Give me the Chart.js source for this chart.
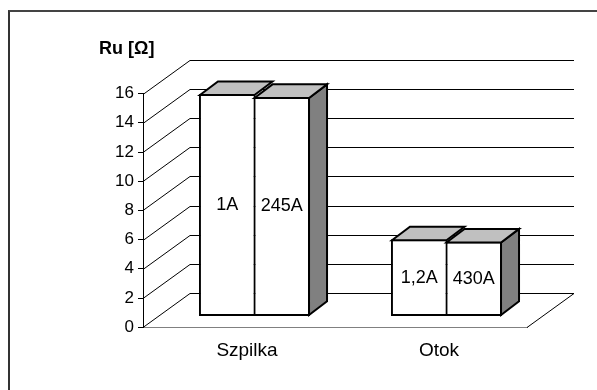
<!DOCTYPE html>
<html>
<head>
<meta charset="utf-8">
<script src="https://cdn.jsdelivr.net/npm/chart.js@4/dist/chart.umd.min.js"></script>
<style>
  html, body { margin: 0; padding: 0; background: #fff; }
  #wrap { position: relative; width: 597px; height: 390px; overflow: hidden; }
  #c { position: absolute; left: 0; top: 0; }
  #frame { position: absolute; left: 8px; top: 10px; width: 640px; height: 440px;
           border-left: 2px solid #333; border-top: 2px solid #444; pointer-events: none; }
</style>
</head>
<body>
<div id="wrap">
  <canvas id="c" width="597" height="390"></canvas>
  <div id="frame"></div>
</div>
<script>
// Resistance Ru [Ω] for two electrode types, two test currents each
const categories = ['Szpilka', 'Otok'];
const seriesA = [15.2, 5.25];
const seriesB = [15.0, 5.1];
const seriesALabels = ['1A', '1,2A'];
const seriesBLabels = ['245A', '430A'];
const yTicks = [0, 2, 4, 6, 8, 10, 12, 14, 16];

const FONT = '"Liberation Sans", Arial, Helvetica, sans-serif';

// 3-D look: wall depth and bar depth (pixels)
const WALL = { dx: 47, dy: -34 };
const DEPTH = { dx: 18, dy: -13.6 };
// bars stand a little inside the floor, so their scale is lifted by this many units
const BAR_LIFT = 0.77;

const box3d = {
  id: 'box3d',
  beforeDatasetsDraw(chart) {
    const ctx = chart.ctx;
    const y = chart.scales.y;
    const area = chart.chartArea;
    ctx.save();
    ctx.strokeStyle = '#000';
    ctx.lineWidth = 1;
    ctx.beginPath();
    yTicks.forEach(v => {
      const py = Math.round(y.getPixelForValue(v)) + 0.5;
      ctx.moveTo(area.left, py);
      ctx.lineTo(area.left + WALL.dx, py + WALL.dy);
      ctx.lineTo(area.right + WALL.dx, py + WALL.dy);
    });
    const p0 = Math.round(y.getPixelForValue(0)) + 0.5;
    ctx.moveTo(area.right, p0);
    ctx.lineTo(area.right + WALL.dx, p0 + WALL.dy);
    ctx.stroke();
    ctx.restore();
  },
  afterDatasetsDraw(chart) {
    const ctx = chart.ctx;
    const nSets = chart.data.datasets.length;
    ctx.save();
    ctx.lineWidth = 2;
    ctx.lineJoin = 'miter';
    ctx.strokeStyle = '#000';
    categories.forEach((_, i) => {
      for (let d = 0; d < nSets; d++) {
        const el = chart.getDatasetMeta(d).data[i];
        const { x, y, base, width } = el.getProps(['x', 'y', 'base', 'width'], true);
        const l = x - width / 2 + 1, r = x + width / 2 - 1;
        if (d === nSets - 1) {
          ctx.beginPath();
          ctx.moveTo(r, y + 1);
          ctx.lineTo(r + DEPTH.dx, y + 1 + DEPTH.dy);
          ctx.lineTo(r + DEPTH.dx, base - 1 + DEPTH.dy);
          ctx.lineTo(r, base - 1);
          ctx.closePath();
          ctx.fillStyle = '#808080';
          ctx.fill();
          ctx.stroke();
        }
        ctx.beginPath();
        ctx.moveTo(l, y + 1);
        ctx.lineTo(l + DEPTH.dx, y + 1 + DEPTH.dy);
        ctx.lineTo(r + DEPTH.dx, y + 1 + DEPTH.dy);
        ctx.lineTo(r, y + 1);
        ctx.closePath();
        ctx.fillStyle = '#c0c0c0';
        ctx.fill();
        ctx.stroke();
      }
    });
    // current labels inside the bars
    ctx.fillStyle = '#000';
    ctx.font = '18px ' + FONT;
    ctx.textAlign = 'center';
    ctx.textBaseline = 'middle';
    chart.data.datasets.forEach((ds, d) => {
      chart.getDatasetMeta(d).data.forEach((el, i) => {
        const { x, y, base } = el.getProps(['x', 'y', 'base'], true);
        ctx.fillText(ds.barLabels[i], x, (y + base) / 2);
      });
    });
    ctx.restore();
  }
};

const toPoints = vals => vals.map((v, i) => ({ x: i, y: v }));
const indexTicks = s => { s.ticks = categories.map((_, i) => ({ value: i })); };

// neighbouring bars overlap by one border width so they share a single edge line
const barStyle = {
  backgroundColor: '#fff',
  borderColor: '#000',
  borderWidth: 2,
  borderSkipped: false,
  categoryPercentage: 0.568,
  barPercentage: 1.037,
  clip: false,
  xAxisID: 'xb',
  yAxisID: 'yb'
};

new Chart(document.getElementById('c'), {
  type: 'bar',
  data: {
    datasets: [
      Object.assign({ label: '1A', data: toPoints(seriesA), barLabels: seriesALabels }, barStyle),
      Object.assign({ label: '245A', data: toPoints(seriesB), barLabels: seriesBLabels }, barStyle)
    ]
  },
  plugins: [box3d],
  options: {
    responsive: false,
    animation: false,
    devicePixelRatio: 1,
    layout: { padding: { left: 99, right: 70, top: 0, bottom: 16 } },
    plugins: {
      legend: { display: false },
      tooltip: { enabled: false },
      colors: { enabled: false },
      title: {
        display: true,
        text: 'Ru [Ω]',
        align: 'start',
        color: '#000',
        font: { family: FONT, size: 18, weight: 'bold' },
        padding: { top: 38, bottom: 34 }
      }
    },
    scales: {
      x: {
        type: 'linear',
        position: 'bottom',
        offset: false,
        min: -0.5417,
        max: 1.4583,
        afterBuildTicks: indexTicks,
        grid: { display: false, drawTicks: false, offset: false },
        border: { display: true, color: '#808080', width: 1 },
        ticks: {
          padding: 12,
          color: '#000',
          font: { family: FONT, size: 19 },
          callback: v => categories[v] ?? ''
        }
      },
      xb: {
        type: 'linear',
        display: false,
        offset: false,
        grid: { offset: false },
        min: -0.5807,
        max: 1.4193,
        afterBuildTicks: indexTicks
      },
      y: {
        position: 'left',
        min: 0,
        max: 16,
        afterBuildTicks: s => { s.ticks = yTicks.map(v => ({ value: v })); },
        afterFit: s => { s.width = 44; },
        grid: { drawOnChartArea: false, drawTicks: true, tickLength: 5, color: '#000' },
        border: { display: true, color: '#000', width: 1 },
        ticks: { padding: 4, color: '#000', font: { family: FONT, size: 17 } }
      },
      yb: { type: 'linear', display: false, min: -BAR_LIFT, max: 16 - BAR_LIFT }
    }
  }
});
</script>
</body>
</html>
